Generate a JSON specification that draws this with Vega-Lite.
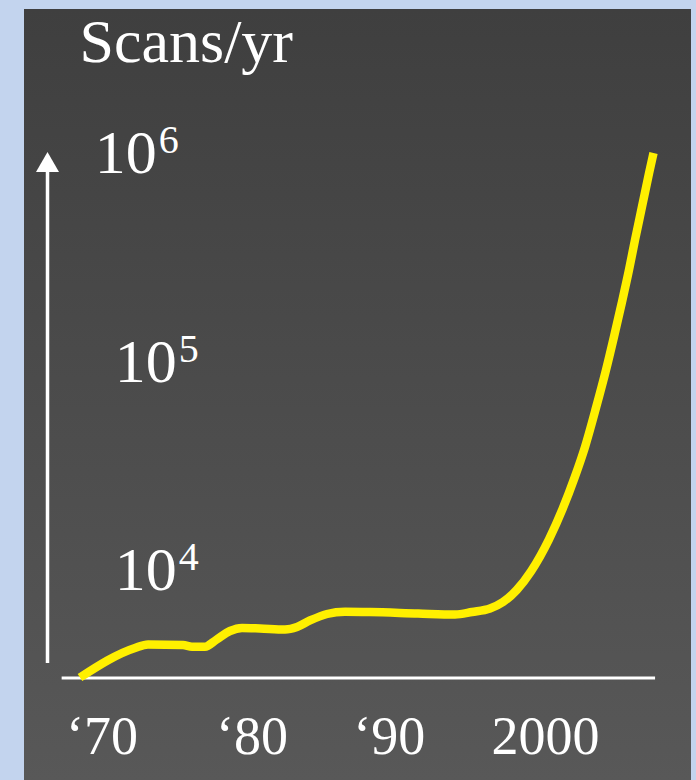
{
  "$schema": "https://vega.github.io/schema/vega-lite/v6.json",
  "width": 667,
  "height": 771,
  "autosize": {"type": "none"},
  "padding": {"left": 24, "top": 9, "right": 5, "bottom": 0},
  "background": "#c3d4ee",
  "config": {"view": {"stroke": null}},
  "encoding": {
    "x": {"field": "year", "type": "quantitative", "scale": {"domain": [1964.723, 2009.851], "nice": false, "zero": false}, "axis": null},
    "y": {"field": "scans", "type": "quantitative", "scale": {"type": "log", "domain": [1226.6, 6118000], "nice": false}, "axis": null}
  },
  "layer": [
    {
      "data": {"values": [{}]},
      "mark": {"type": "rect", "color": {"gradient": "linear", "x1": 0, "y1": 0, "x2": 0, "y2": 1, "stops": [{"offset": 0, "color": "#3f3f3f"}, {"offset": 1, "color": "#585858"}]}},
      "encoding": {"x": {"value": 0}, "x2": {"value": "width"}, "y": {"value": 0}, "y2": {"value": "height"}}
    },
    {
      "data": {"values": [{"year": 1967.27, "year2": 2007.42, "scans": 3784}]},
      "mark": {"type": "rule", "color": "#ffffff", "strokeWidth": 3},
      "encoding": {"x2": {"field": "year2"}}
    },
    {
      "data": {"values": [{"year": 1966.313, "scans": 4467, "scans2": 1011100}]},
      "mark": {"type": "rule", "color": "#ffffff", "strokeWidth": 3.5},
      "encoding": {"y2": {"field": "scans2"}}
    },
    {
      "data": {"values": [{"year": 1966.313, "scans": 1129000}]},
      "mark": {"type": "point", "shape": "triangle-up", "filled": true, "size": 530, "color": "#ffffff", "opacity": 1}
    },
    {
      "data": {"values": [
        {"year": 1968.511, "scans": 3804},
        {"year": 1972.233, "scans": 5271},
        {"year": 1973.112, "scans": 5479},
        {"year": 1975.480, "scans": 5448},
        {"year": 1976.089, "scans": 5347},
        {"year": 1976.969, "scans": 5347},
        {"year": 1977.713, "scans": 5758},
        {"year": 1978.660, "scans": 6360},
        {"year": 1979.472, "scans": 6574},
        {"year": 1980.690, "scans": 6538},
        {"year": 1982.382, "scans": 6466},
        {"year": 1983.194, "scans": 6647},
        {"year": 1984.073, "scans": 7141},
        {"year": 1985.223, "scans": 7671},
        {"year": 1986.441, "scans": 7868},
        {"year": 1988.133, "scans": 7842},
        {"year": 1991.380, "scans": 7714},
        {"year": 1993.884, "scans": 7629},
        {"year": 1995.034, "scans": 7842},
        {"year": 1996.252, "scans": 8151},
        {"year": 1997.131, "scans": 8758},
        {"year": 1998.058, "scans": 10000},
        {"year": 1999.026, "scans": 12293},
        {"year": 2000.244, "scans": 17507},
        {"year": 2001.171, "scans": 24575},
        {"year": 2001.983, "scans": 34755},
        {"year": 2002.680, "scans": 48577},
        {"year": 2003.444, "scans": 75702},
        {"year": 2004.100, "scans": 113540},
        {"year": 2004.641, "scans": 163970},
        {"year": 2005.162, "scans": 237220},
        {"year": 2005.656, "scans": 342660},
        {"year": 2006.062, "scans": 477270},
        {"year": 2006.536, "scans": 689350},
        {"year": 2007.010, "scans": 996690},
        {"year": 2007.314, "scans": 1247000}
      ]},
      "mark": {"type": "line", "color": "#fff000", "strokeWidth": 8.5, "interpolate": "monotone", "strokeCap": "butt", "strokeJoin": "round"}
    },
    {
      "data": {"values": [{"year": 1968.478, "scans": 3407200, "label": "Scans/yr"}]},
      "mark": {"type": "text", "align": "left", "baseline": "alphabetic", "font": "Liberation Serif", "fontSize": 62, "color": "#ffffff"},
      "encoding": {"text": {"field": "label"}}
    },
    {
      "data": {"values": [
        {"year": 1973.707, "scans": 1000000, "base": "10", "exp": "6"},
        {"year": 1975.061, "scans": 100000, "base": "10", "exp": "5"},
        {"year": 1975.061, "scans": 10000, "base": "10", "exp": "4"}
      ]},
      "layer": [
        {
          "mark": {"type": "text", "align": "right", "baseline": "alphabetic", "font": "Liberation Serif", "fontSize": 62, "color": "#ffffff"},
          "encoding": {"text": {"field": "base"}}
        },
        {
          "mark": {"type": "text", "align": "left", "baseline": "alphabetic", "dx": 2, "dy": -20, "font": "Liberation Serif", "fontSize": 40, "color": "#ffffff"},
          "encoding": {"text": {"field": "exp"}}
        }
      ]
    },
    {
      "data": {"values": [
        {"year": 1970, "scans": 1635, "label": "‘70"},
        {"year": 1980.15, "scans": 1635, "label": "‘80"},
        {"year": 1989.44, "scans": 1635, "label": "‘90"},
        {"year": 2000, "scans": 1635, "label": "2000"}
      ]},
      "mark": {"type": "text", "align": "center", "baseline": "alphabetic", "font": "Liberation Serif", "fontSize": 54, "color": "#ffffff"},
      "encoding": {"text": {"field": "label"}}
    }
  ]
}
